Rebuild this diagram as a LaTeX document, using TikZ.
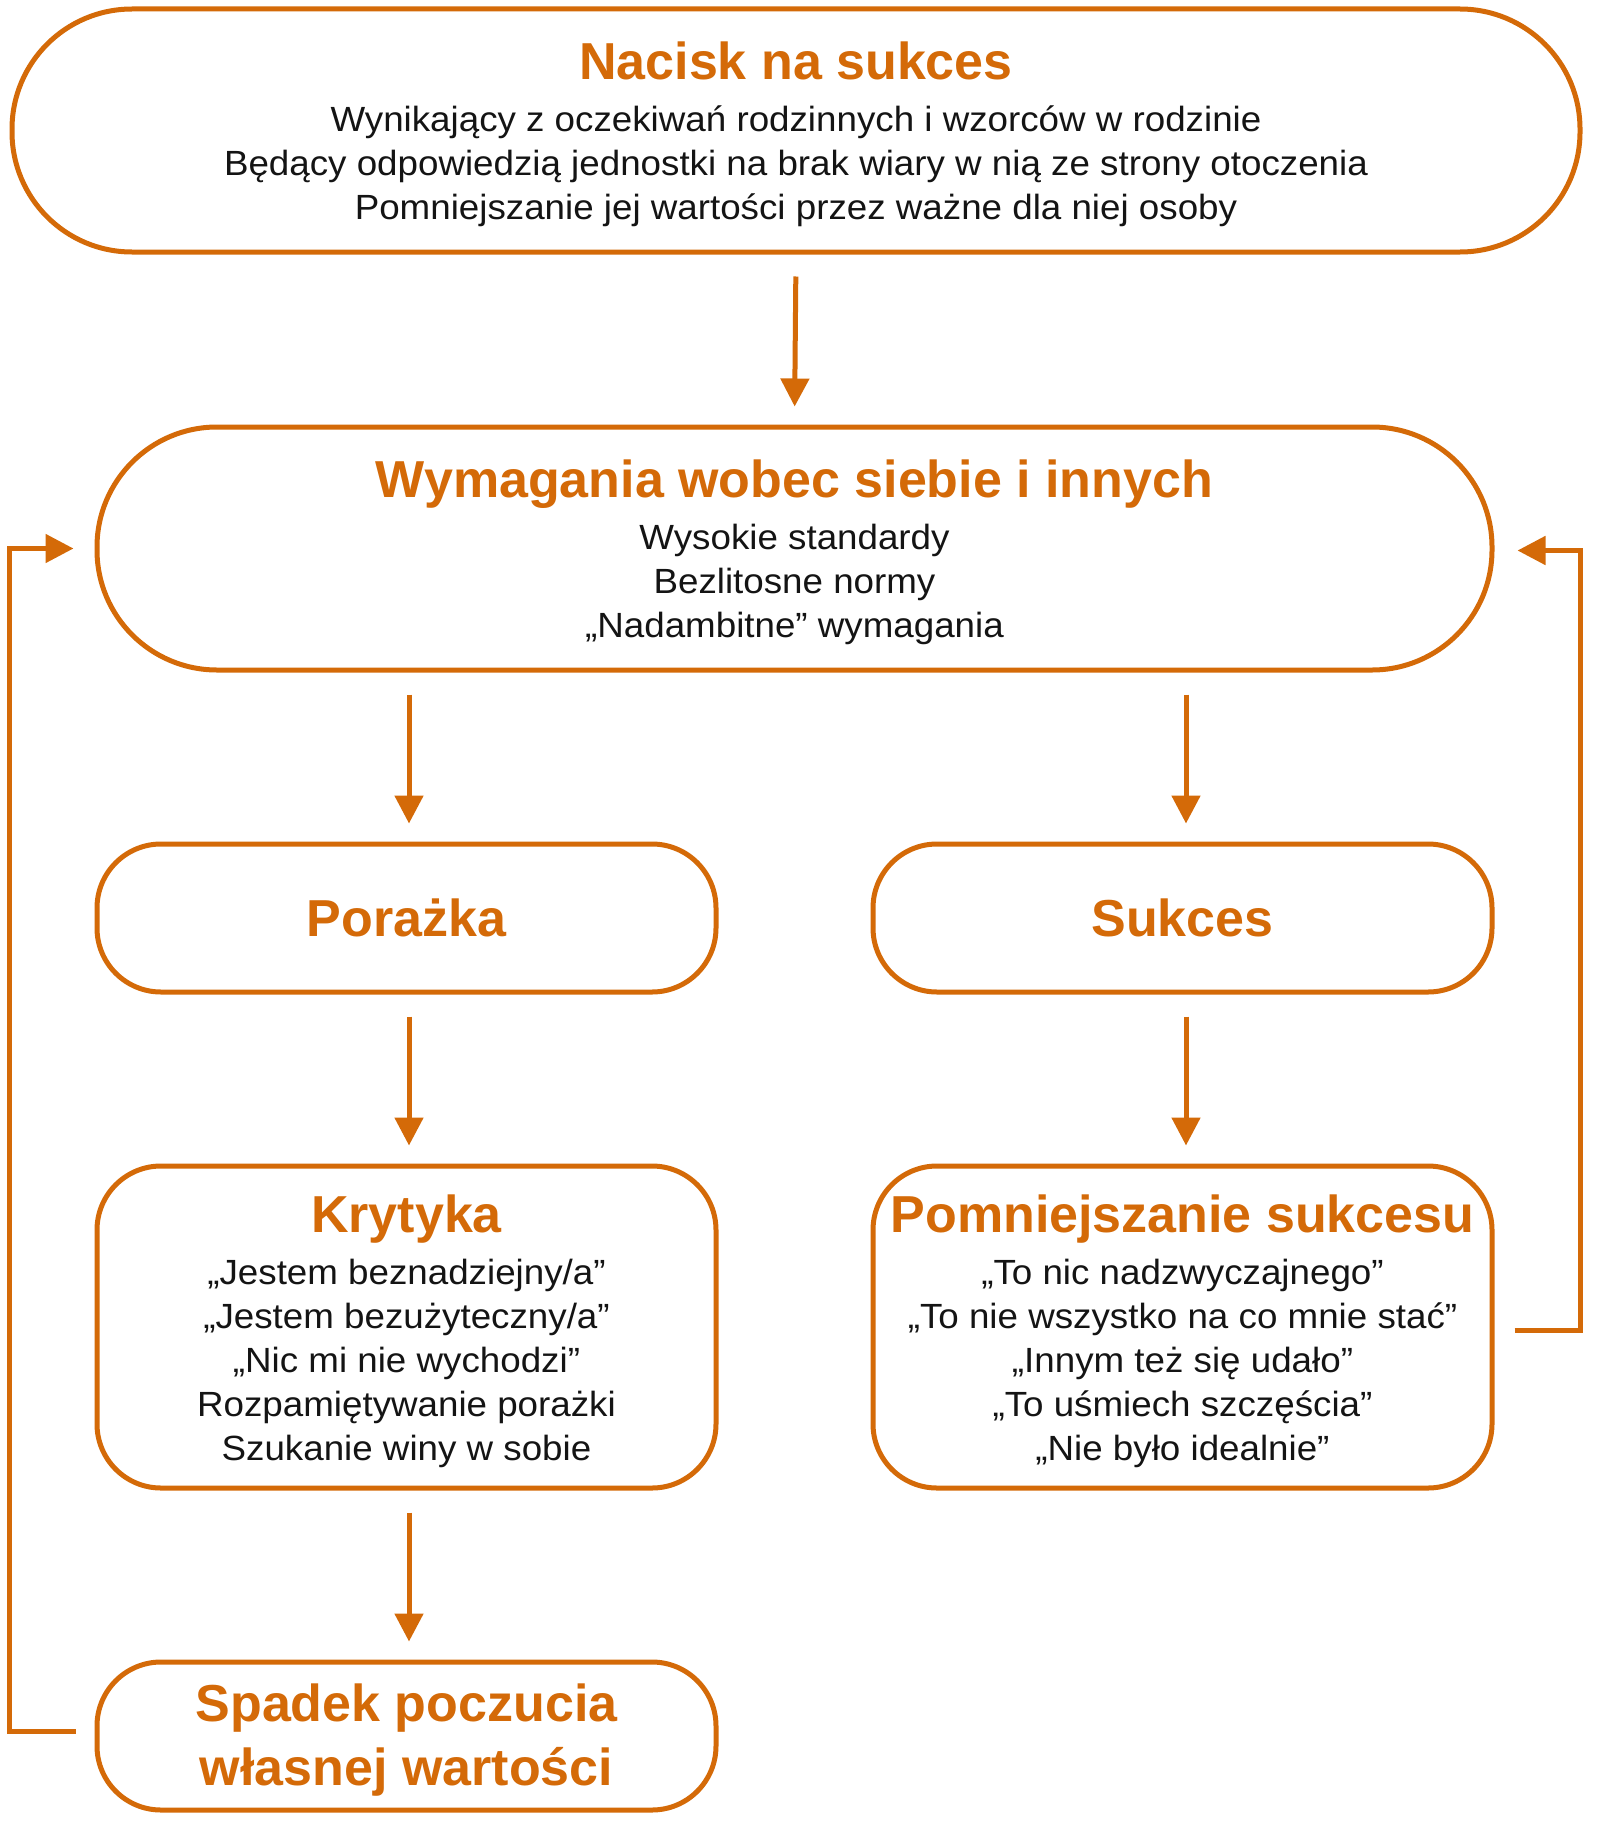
\documentclass[tikz,border=0pt]{standalone}
\usepackage{fontspec}
\setmainfont{Liberation Sans}
\newfontfamily\bodyfont[FakeStretch=1.05]{Liberation Sans}
\newfontfamily\headfont{Liberation Sans}
\usetikzlibrary{arrows.meta}
\definecolor{org}{RGB}{212,106,8}
\definecolor{txt}{RGB}{20,20,20}
\newcommand{\ttl}[1]{{\headfont\fontsize{52}{60}\selectfont\bfseries\color{org}#1}}
\newcommand{\ttlx}[1]{{\headfont\fontsize{52}{60}\selectfont\bfseries\color{org}\rule{0pt}{46pt}#1}}
\tikzset{
  box/.style={draw=org, line width=5pt, fill=white, align=center, text=txt,
    font=\bodyfont\fontsize{35}{44}\selectfont, inner sep=0pt},
  arr/.style={draw=org, line width=5pt, -{Triangle[length=28pt,width=28pt]},
    shorten <=22pt, shorten >=18pt},
  back/.style={draw=org, line width=5pt, -{Triangle[length=28pt,width=28pt]}, line join=miter}
}
\begin{document}
\begin{tikzpicture}[x=1pt,y=-1pt]
\useasboundingbox[fill=white] (0,0) rectangle (1600,1833);
\node[box, minimum width=1568pt, minimum height=243pt, rounded corners=120pt] (top) at (796,130.5)
 {\ttlx{Nacisk na sukces}\\[8pt]
  Wynikający z oczekiwań rodzinnych i wzorców w rodzinie\\
  Będący odpowiedzią jednostki na brak wiary w nią ze strony otoczenia\\
  Pomniejszanie jej wartości przez ważne dla niej osoby};
\node[box, minimum width=1395pt, minimum height=243pt, rounded corners=120pt] (req) at (794.5,548.5)
 {\ttlx{Wymagania wobec siebie i innych}\\[8pt]
  Wysokie standardy\\
  Bezlitosne normy\\
  „Nadambitne” wymagania};
\node[box, minimum width=619pt, minimum height=148pt, rounded corners=64pt] (por) at (406.5,918)
 {\ttl{Porażka}};
\node[box, minimum width=619pt, minimum height=148pt, rounded corners=64pt] (suk) at (1182.5,918)
 {\ttl{Sukces}};
\node[box, minimum width=619pt, minimum height=322pt, rounded corners=64pt] (kry) at (406.5,1327)
 {\ttlx{Krytyka}\\[8pt]
  „Jestem beznadziejny/a”\\
  „Jestem bezużyteczny/a”\\
  „Nic mi nie wychodzi”\\
  Rozpamiętywanie porażki\\
  Szukanie winy w sobie};
\node[box, minimum width=619pt, minimum height=322pt, rounded corners=64pt] (pom) at (1182.5,1327)
 {\ttlx{Pomniejszanie sukcesu}\\[8pt]
  „To nic nadzwyczajnego”\\
  „To nie wszystko na co mnie stać”\\
  „Innym też się udało”\\
  „To uśmiech szczęścia”\\
  „Nie było idealnie”};
\node[box, minimum width=619pt, minimum height=148pt, rounded corners=64pt,
      font=\headfont\fontsize{52}{64}\selectfont\bfseries, text=org] (spa) at (406.5,1736)
 {\rule{0pt}{46pt}Spadek poczucia\\ własnej wartości};
\draw[arr] (top.south) -- (req.north);
\draw[arr] ([xshift=2.5pt]req.south -| por.north) -- ([xshift=2.5pt]por.north);
\draw[arr] ([xshift=3.5pt]req.south -| suk.north) -- ([xshift=3.5pt]suk.north);
\draw[arr] ([xshift=2.5pt]por.south) -- ([xshift=2.5pt]kry.north);
\draw[arr] ([xshift=3.5pt]suk.south) -- ([xshift=3.5pt]pom.north);
\draw[arr] ([xshift=2.5pt]kry.south) -- ([xshift=2.5pt]spa.north);
\draw[back] ([xshift=-19pt,yshift=5pt]spa.west) -- ++(-66,0) |- ([xshift=-21pt]req.west);
\draw[back] ([xshift=20pt,yshift=-3pt]pom.east) -- ++(66,0) |- ([xshift=23pt,yshift=-2pt]req.east);
\end{tikzpicture}
\end{document}
